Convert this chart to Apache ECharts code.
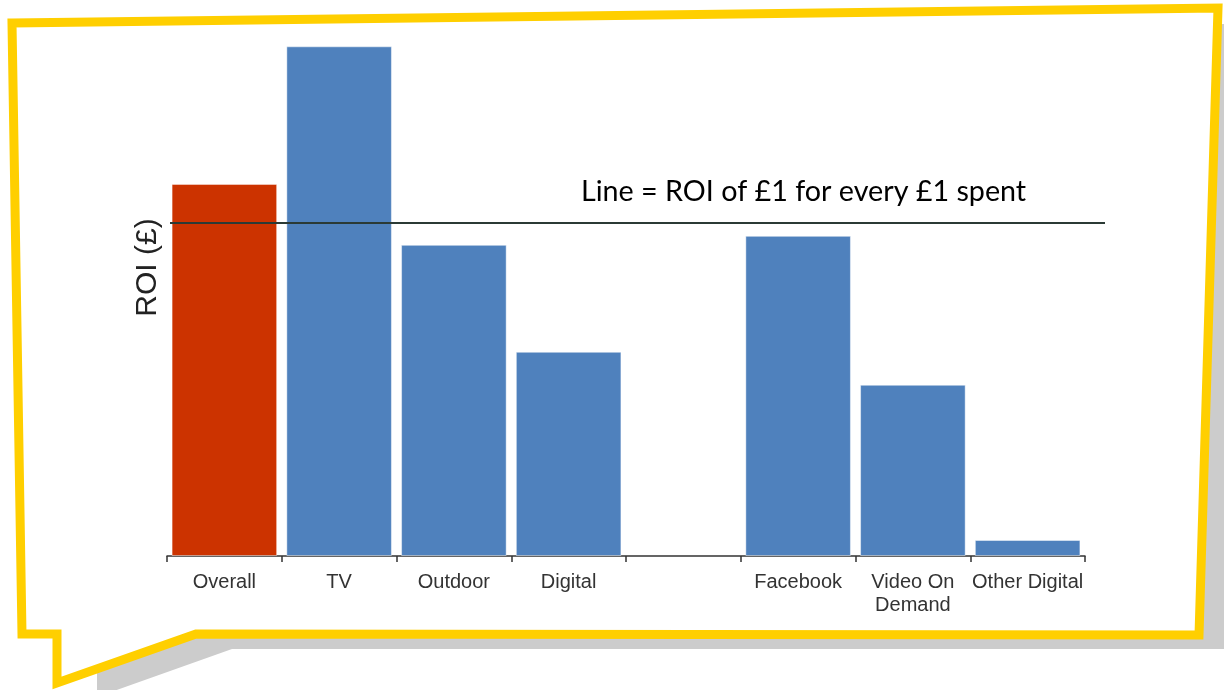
<!DOCTYPE html>
<html>
<head>
<meta charset="utf-8">
<script src="https://cdn.jsdelivr.net/npm/echarts@6/dist/echarts.min.js"></script>
<style>html,body{margin:0;padding:0;background:#fff;}#c{width:1224px;height:690px;}</style>
</head>
<body>
<div id="c"></div>
<script>
var categories = ['Overall', 'TV', 'Outdoor', 'Digital', '', 'Facebook', 'Video On\nDemand', 'Other Digital'];
var roiValues = [1.117, 1.53, 0.934, 0.613, null, 0.961, 0.514, 0.048];
var highlightCategory = 'Overall';
var breakEvenROI = 1;
var lineLabel = 'Line = ROI of £1 for every £1 spent';
var yAxisName = 'ROI (£)';

var RED = '#CC3300', BLUE = '#4F81BD';
var chart = echarts.init(document.getElementById('c'), null, {renderer: 'canvas'});

var barData = categories.map(function (c, i) {
  return {value: roiValues[i], itemStyle: {color: c === highlightCategory ? RED : BLUE}};
});

var option = {
  animation: false,
  backgroundColor: '#fff',
  title: {
    text: lineLabel, left: 576, top: 172,
    textStyle: {fontFamily: 'Lato', fontSize: 28.7, fontWeight: 'normal', color: '#000'}
  },
  graphic: [
    {type: 'polygon', z: -20, silent: true,
     shape: {points: [[97, 60], [1224, 24], [1224, 649], [232, 649], [97, 697]]},
     style: {fill: '#cccccc'}},
    {type: 'polygon', z: -10, silent: true,
     shape: {points: [[12, 23], [1218, 8], [1199, 635], [196, 634], [57, 683], [57, 634], [22, 634]]},
     style: {fill: '#fff', stroke: '#FFCF00', lineWidth: 9, lineJoin: 'miter'}}
  ],
  grid: [
    {left: 167, right: 139, top: 23, bottom: 134},
    {left: 170, right: 119, top: 23, bottom: 134}
  ],
  xAxis: [
    {type: 'category', gridIndex: 0, data: categories,
     axisLine: {lineStyle: {color: '#333', width: 1.5}},
     axisTick: {show: true, length: 6, interval: 0, lineStyle: {color: '#333', width: 1.5}},
     axisLabel: {interval: 0, color: '#333', fontFamily: 'Liberation Sans', fontSize: 20, margin: 15, lineHeight: 23}},
    {type: 'value', gridIndex: 1, min: 0, max: 1, show: false}
  ],
  yAxis: [
    {type: 'value', gridIndex: 0, min: 0, max: 1.6, axisLine: {show: false}, axisTick: {show: false},
     axisLabel: {show: false}, splitLine: {show: false},
     name: yAxisName, nameLocation: 'middle', nameGap: 4, nameRotate: 90,
     nameTextStyle: {fontFamily: 'Liberation Sans', fontSize: 30, color: '#222', padding: [0, 0, 0, 44]}},
    {type: 'value', gridIndex: 1, min: 0, max: 1.6, show: false}
  ],
  series: [
    {type: 'bar', xAxisIndex: 0, yAxisIndex: 0, data: barData, barCategoryGap: '8%',
     itemStyle: {borderColor: 'rgba(255,255,255,0.45)', borderWidth: 1}},
    {type: 'line', xAxisIndex: 1, yAxisIndex: 1, symbol: 'none', silent: true,
     data: [[0, breakEvenROI], [1, breakEvenROI]],
     lineStyle: {color: '#2b3a35', width: 2}, z: 5}
  ]
};
chart.setOption(option);
</script>
</body>
</html>
